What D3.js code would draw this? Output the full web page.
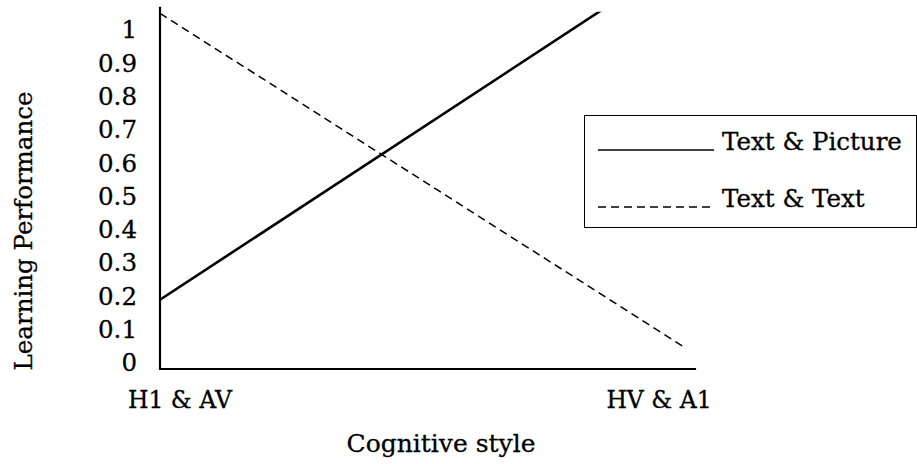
<!DOCTYPE html>
<html>
<head>
<meta charset="utf-8">
<script src="https://cdn.jsdelivr.net/npm/d3@7"></script>
<style>
	body { margin: 0; background: #fff; }
	text { font-family: "DejaVu Serif", serif; fill: #000; stroke: #000; stroke-width: 0.3; }
</style>
</head>
<body>
<div id="chart"></div>
<script>
var categories = ["H1 & AV", "HV & A1"]
var textPicture = [0.19, 1.22]
var textText = [1.05, 0.05]
var yTicks = [0, 0.1, 0.2, 0.3, 0.4, 0.5, 0.6, 0.7, 0.8, 0.9, 1]
var seriesNames = ["Text & Picture", "Text & Text"]

var canvas = d3.select("#chart").append("svg")
	.attr("width", 917)
	.attr("height", 464)

var x = d3.scaleLinear().domain([0, 1]).range([160, 683])
var y = d3.scaleLinear().domain([0, 1]).range([363, 30])

// clip the lines at the top of the plot
canvas.append("clipPath").attr("id", "plot")
	.append("rect")
	.attr("x", x(0))
	.attr("y", y(1.055))
	.attr("width", x(1.025) - x(0))
	.attr("height", y(-0.02) - y(1.055))

var line = d3.line()
	.x(function(d, i) { return x(i); })
	.y(function(d) { return y(d); })

canvas.append("path")
	.datum(textPicture)
	.attr("clip-path", "url(#plot)")
	.attr("fill", "none")
	.attr("stroke", "#000")
	.attr("stroke-width", 2.6)
	.attr("d", line)

canvas.append("path")
	.datum(textText)
	.attr("clip-path", "url(#plot)")
	.attr("fill", "none")
	.attr("stroke", "#000")
	.attr("stroke-width", 1.5)
	.attr("stroke-dasharray", "8,5")
	.attr("d", line)

// axes
var yAxis = canvas.append("g")
	.attr("transform", "translate(" + x(0) + ",0)")
	.call(d3.axisLeft(y).tickValues(yTicks).tickSize(0).tickPadding(23)
		.tickFormat(function(d) { return d3.format("")(d); }))
yAxis.select(".domain").remove()
yAxis.selectAll("text")
	.attr("font-size", 24.5)
	.attr("font-family", "DejaVu Serif")
	.attr("fill", "#000")

canvas.append("line")
	.attr("x1", x(0)).attr("x2", x(0))
	.attr("y1", y(1.07)).attr("y2", y(-0.018))
	.attr("stroke", "#000").attr("stroke-width", 2.2)

canvas.append("line")
	.attr("x1", x(0) - 1).attr("x2", x(1.025))
	.attr("y1", y(-0.018)).attr("y2", y(-0.018))
	.attr("stroke", "#000").attr("stroke-width", 2.2)

var labelShift = [20, -24]
canvas.selectAll(".cat")
	.data(categories)
	.enter()
		.append("text")
		.attr("class", "cat")
		.attr("text-anchor", "middle")
		.attr("font-size", 23.5)
		.attr("x", function(d, i) { return x(i) + labelShift[i]; })
		.attr("y", 408)
		.text(function(d) { return d; })

canvas.append("text")
	.attr("text-anchor", "middle")
	.attr("font-size", 25)
	.attr("x", 441)
	.attr("y", 452)
	.text("Cognitive style")

canvas.append("text")
	.attr("text-anchor", "middle")
	.attr("font-size", 24.5)
	.attr("transform", "translate(32,231) rotate(-90)")
	.text("Learning Performance")

// legend
var legend = canvas.append("g")
legend.append("rect")
	.attr("x", 584.5).attr("y", 115.5)
	.attr("width", 332).attr("height", 112)
	.attr("fill", "#fff")
	.attr("stroke", "#000")
	.attr("stroke-width", 1)

var item = legend.selectAll(".item")
	.data(seriesNames)
	.enter()
		.append("g")
		.attr("class", "item")
		.attr("transform", function(d, i) { return "translate(598," + (150 + i * 57) + ")"; })

item.append("line")
	.attr("x1", 0).attr("x2", 116)
	.attr("stroke", "#000")
	.attr("stroke-width", 1.5)
	.attr("stroke-dasharray", function(d, i) { return i == 0 ? null : "8,5"; })

item.append("text")
	.attr("x", 124)
	.attr("font-size", 24.5)
	.text(function(d) { return d; })
</script>
</body>
</html>
